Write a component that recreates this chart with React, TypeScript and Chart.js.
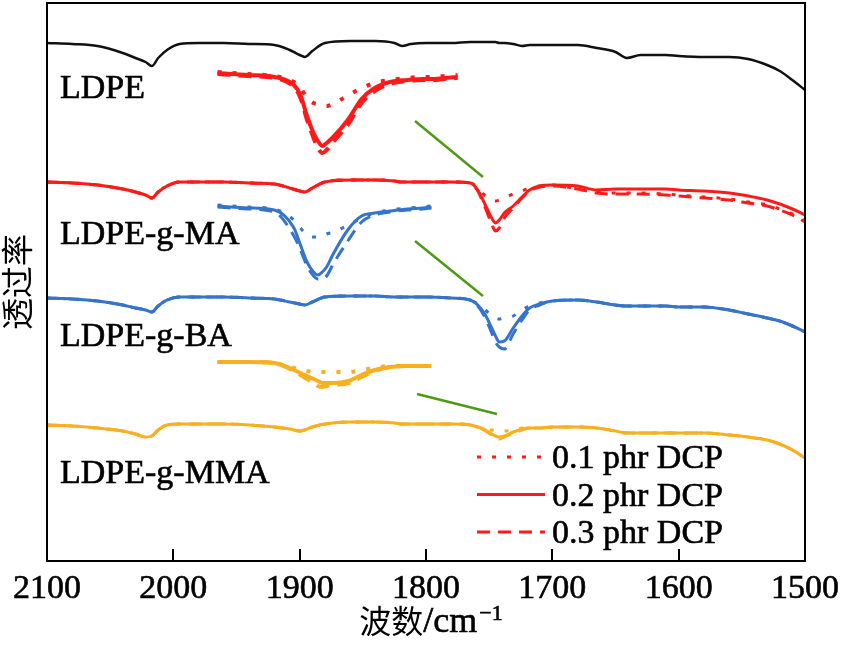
import React, { useEffect, useRef } from "react";
import { Chart, registerables } from "chart.js";

Chart.register(...registerables);

// ---------- data (transmittance in arbitrary units, curves offset) ----------
const WAVENUMBERS = [
  2100, 2080, 2060, 2040, 2030, 2022, 2017, 2012, 2005, 1995, 1980, 1960, 1940,
  1920, 1908, 1900, 1896, 1890, 1880, 1860, 1840, 1825, 1819, 1812, 1800, 1780,
  1765, 1759, 1753, 1748, 1745, 1742, 1738, 1731, 1724, 1718, 1710, 1700, 1680,
  1665, 1650, 1641, 1630, 1610, 1600, 1580, 1560, 1545, 1530, 1520, 1510, 1500,
];

const LDPE = [
  518, 517, 515, 508, 503, 499, 495, 503, 511, 517, 518, 518, 517, 516, 511,
  506, 504, 510, 518, 520, 520, 518, 515, 517, 518, 518, 519, 519, 519, 519,
  519, 518, 518, 517, 515, 516, 516, 516, 516, 513, 509, 503, 506, 506, 505,
  504, 504, 502, 496, 490, 481, 471,
];

const MA_01 = [
  379, 378, 376, 372, 369, 366, 363, 369, 375, 379, 379, 379, 378, 377, 373,
  370, 369, 373, 379, 381, 381, 380, 379, 379, 379, 379, 378, 373, 365, 361,
  360, 361, 363, 367, 370, 373, 375, 376, 372, 369, 368, 368, 368, 367, 366,
  364, 362, 359, 356, 352, 347, 341,
];
const MA_02 = [
  379, 378, 376, 372, 369, 366, 363, 369, 375, 379, 379, 379, 378, 377, 373,
  370, 369, 373, 379, 381, 381, 380, 379, 379, 379, 379, 378, 371, 356, 343,
  338, 341, 348, 355, 364, 371, 375, 376, 375, 371, 372, 372, 372, 372, 371,
  370, 368, 365, 361, 357, 352, 346,
];
const MA_03 = [
  379, 378, 376, 372, 369, 366, 363, 369, 375, 379, 379, 379, 378, 377, 373,
  370, 369, 373, 379, 381, 381, 380, 379, 379, 379, 379, 378, 370, 353, 337,
  330, 333, 343, 353, 363, 370, 374, 375, 372, 368, 367, 367, 367, 366, 365,
  363, 361, 358, 355, 351, 346, 339,
];

const BA_01 = [
  263, 262, 260, 256, 253, 251, 249, 255, 261, 264, 264, 264, 263, 262, 259,
  257, 256, 259, 264, 265, 265, 264, 264, 264, 264, 263, 261, 257, 251, 245,
  243, 242, 243, 245, 251, 255, 258, 260, 261, 259, 256, 255, 255, 255, 254,
  254, 251, 247, 243, 240, 235, 229,
];
const BA_02 = [
  263, 262, 260, 256, 253, 251, 249, 255, 261, 264, 264, 264, 263, 262, 259,
  257, 256, 259, 264, 265, 265, 264, 264, 264, 264, 263, 261, 256, 246, 233,
  225, 219, 220, 233, 245, 253, 257, 260, 261, 259, 256, 255, 255, 255, 254,
  254, 251, 247, 243, 240, 235, 229,
];
const BA_03 = [
  263, 262, 260, 256, 253, 251, 249, 255, 261, 264, 264, 264, 263, 262, 259,
  257, 256, 259, 264, 265, 265, 264, 264, 264, 264, 263, 261, 255, 243, 228,
  219, 214, 212, 227, 241, 251, 256, 260, 261, 259, 256, 255, 255, 255, 254,
  254, 251, 247, 243, 240, 235, 229,
];

const MMA_01 = [
  136, 135, 133, 130, 127, 124, 125, 131, 136, 137, 137, 137, 136, 134, 132,
  130, 131, 134, 137, 139, 139, 138, 137, 137, 137, 137, 136, 134, 132, 131,
  130, 130, 130, 131, 133, 133, 133, 134, 134, 133, 130, 128, 128, 128, 128,
  128, 126, 124, 121, 117, 111, 103,
];
const MMA_02 = [
  136, 135, 133, 130, 127, 124, 125, 131, 136, 137, 137, 137, 136, 134, 132,
  130, 131, 134, 137, 139, 139, 138, 137, 137, 137, 137, 136, 134, 131, 127,
  125, 124, 125, 129, 132, 133, 133, 134, 134, 133, 130, 128, 128, 128, 128,
  128, 126, 124, 121, 117, 111, 103,
];
const MMA_03 = [
  136, 135, 133, 130, 127, 124, 125, 131, 136, 137, 137, 137, 136, 134, 132,
  130, 131, 134, 137, 139, 139, 138, 137, 137, 137, 137, 136, 134, 130, 126,
  123, 122, 124, 128, 131, 133, 133, 134, 134, 133, 130, 128, 128, 128, 128,
  128, 126, 124, 121, 117, 111, 103,
];

// magnified C=O region (insets)
const INSET_WAVENUMBERS = [
  1790, 1776, 1764, 1755, 1752, 1749, 1746, 1744, 1742, 1740, 1737, 1730, 1724,
  1718, 1711, 1703, 1696, 1692, 1686, 1680,
];
const MA_INSET_01 = [489, 487, 485, 479, 473, 463, 458, 457, 456, 455, 457, 466, 473, 478, 481, 483, 484, 484, 485, 486];
const MA_INSET_02 = [488, 486, 484, 476, 466, 445, 428, 420, 415, 418, 424, 442, 462, 473, 479, 481, 482, 482, 483, 484];
const MA_INSET_03 = [487, 485, 483, 474, 463, 441, 423, 413, 408, 411, 419, 437, 458, 470, 477, 480, 481, 481, 482, 483];
const BA_INSET_01 = [356, 354, 352, 341, 333, 326, 324, 324, 325, 327, 329, 336, 343, 348, 351, 353, 354, 355, null, null];
const BA_INSET_02 = [355, 353, 351, 333, 316, 299, 289, 286, 289, 294, 307, 332, 345, 348, 350, 352, 353, 354, null, null];
const BA_INSET_03 = [354, 352, 349, 325, 311, 295, 285, 282, 282, 285, 297, 321, 339, 346, 349, 351, 352, 353, null, null];
const MMA_INSET_01 = [199, 199, 198, 193, 191, 190, 189, 189, 189, 189, 189, 189, 191, 193, 195, 195, 195, 195, null, null];
const MMA_INSET_02 = [199, 199, 198, 191, 188, 185, 182, 180, 178, 178, 178, 180, 186, 191, 194, 195, 195, 195, null, null];
const MMA_INSET_03 = [199, 199, 198, 190, 186, 182, 178, 175, 174, 175, 176, 178, 184, 190, 194, 195, 195, 195, null, null];

// green pointer lines (inset -> main peak)
const CONNECTOR_X = [1808.7, 1754.9];
const CONNECTOR_MA = [440, 384];
const CONNECTOR_BA = [320, 265];
const CONNECTOR_MMA_X = [1807.1, 1743.8];
const CONNECTOR_MMA = [167, 147];

const X_TICKS = [2100, 2000, 1900, 1800, 1700, 1600, 1500];
const SAMPLE_LABELS = ["LDPE", "LDPE-g-MA", "LDPE-g-BA", "LDPE-g-MMA"];
const SAMPLE_LABEL_Y = [463, 317, 215, 78];
const DCP_LABELS = ["0.1 phr DCP", "0.2 phr DCP", "0.3 phr DCP"];

// ---------- styling ----------
const RED = "#ff1a1a";
const BLUE = "#3574cc";
const YELLOW = "#f8b020";
const GREEN = "#4f9a14";
const DOT = [4, 11];
const DASH = [13, 8];
const DASHES = [DOT, [], DASH];

const INSET_REAL = [1790, 1680];
const INSET_SPOT = [1965, 1775];
const slope = (INSET_REAL[1] - INSET_REAL[0]) / (INSET_SPOT[1] - INSET_SPOT[0]);
const insetAt = (w: number) => INSET_REAL[0] + (w - INSET_SPOT[0]) * slope;

const SERIF = "'Liberation Serif', 'Times New Roman', serif";
const CJK = "'Noto Sans CJK SC', sans-serif";

function series(
  label: string,
  xs: number[],
  ys: (number | null)[],
  color: string,
  dash: number[],
  xAxisID = "x",
  width = 3
) {
  return {
    label,
    data: xs.map((x, i) => ({ x, y: ys[i] })),
    borderColor: color,
    backgroundColor: color,
    borderWidth: width,
    borderDash: dash,
    pointRadius: 0,
    cubicInterpolationMode: "monotone" as const,
    xAxisID,
    yAxisID: "y",
    spanGaps: false,
    fill: false,
  };
}

function heavyText(ctx: CanvasRenderingContext2D, t: string, x: number, y: number) {
  ctx.fillText(t, x, y);
  ctx.strokeText(t, x, y);
}

const decor = {
  id: "decor",
  afterDatasetsDraw(chart: any) {
    const { ctx, chartArea: a, scales } = chart;
    const x = scales.x;
    const y = scales.y;
    ctx.save();
    // frame
    ctx.strokeStyle = "#000";
    ctx.lineWidth = 2;
    ctx.setLineDash([]);
    ctx.strokeRect(a.left, a.top, a.right - a.left, a.bottom - a.top);
    // inward ticks
    ctx.beginPath();
    X_TICKS.forEach((v) => {
      const px = Math.round(x.getPixelForValue(v));
      ctx.moveTo(px, a.bottom);
      ctx.lineTo(px, a.bottom - 12);
    });
    ctx.stroke();

    ctx.fillStyle = "#000";
    ctx.strokeStyle = "#000";
    ctx.lineWidth = 0.6;
    // tick labels
    ctx.font = `34px ${SERIF}`;
    ctx.textAlign = "center";
    ctx.textBaseline = "alphabetic";
    X_TICKS.forEach((v) => heavyText(ctx, String(v), x.getPixelForValue(v), a.bottom + 37));

    // x title: 波数/cm^-1
    const base = a.bottom + 71;
    ctx.textAlign = "left";
    ctx.font = `32px ${CJK}`;
    const w1 = ctx.measureText("波数").width;
    ctx.font = `36px ${SERIF}`;
    const w2 = ctx.measureText("/cm").width;
    ctx.font = `22px ${SERIF}`;
    const w3 = ctx.measureText("−1").width;
    let sx = (a.left + a.right) / 2 + 5 - (w1 + w2 + w3 + 2) / 2;
    ctx.font = `32px ${CJK}`;
    ctx.fillText("波数", sx, base + 1);
    sx += w1;
    ctx.font = `36px ${SERIF}`;
    heavyText(ctx, "/cm", sx, base);
    sx += w2 + 2;
    ctx.font = `22px ${SERIF}`;
    heavyText(ctx, "−1", sx, base - 12);

    // y title
    ctx.save();
    ctx.translate(17, (a.top + a.bottom) / 2);
    ctx.rotate(-Math.PI / 2);
    ctx.font = `32px ${CJK}`;
    ctx.textAlign = "center";
    ctx.textBaseline = "middle";
    ctx.fillText("透过率", 0, 0);
    ctx.restore();

    // sample labels
    ctx.font = `34px ${SERIF}`;
    ctx.textAlign = "left";
    ctx.textBaseline = "alphabetic";
    SAMPLE_LABELS.forEach((t, i) => {
      heavyText(ctx, t, a.left + 13, y.getPixelForValue(SAMPLE_LABEL_Y[i]));
    });

    // legend
    DCP_LABELS.forEach((t, i) => {
      const ly = a.top + 454 + i * 37.5;
      ctx.strokeStyle = RED;
      ctx.lineWidth = 3;
      ctx.setLineDash(DASHES[i]);
      ctx.beginPath();
      ctx.moveTo(a.left + 430, ly);
      ctx.lineTo(a.left + 498, ly);
      ctx.stroke();
      ctx.setLineDash([]);
      ctx.strokeStyle = "#000";
      ctx.lineWidth = 0.6;
      ctx.fillStyle = "#000";
      heavyText(ctx, t, a.left + 505, ly + 11);
    });
    ctx.restore();
  },
};

export default function App() {
  const ref = useRef<HTMLCanvasElement | null>(null);
  useEffect(() => {
    if (!ref.current) return;
    const datasets: any[] = [
      series("LDPE", WAVENUMBERS, LDPE, "#111111", [], "x", 2.5),
      series("LDPE-g-MA 0.1 phr DCP", WAVENUMBERS, MA_01, RED, DOT),
      series("LDPE-g-MA 0.3 phr DCP", WAVENUMBERS, MA_03, RED, DASH),
      series("LDPE-g-MA 0.2 phr DCP", WAVENUMBERS, MA_02, RED, []),
      series("LDPE-g-BA 0.1 phr DCP", WAVENUMBERS, BA_01, BLUE, DOT),
      series("LDPE-g-BA 0.3 phr DCP", WAVENUMBERS, BA_03, BLUE, DASH),
      series("LDPE-g-BA 0.2 phr DCP", WAVENUMBERS, BA_02, BLUE, []),
      series("LDPE-g-MMA 0.1 phr DCP", WAVENUMBERS, MMA_01, YELLOW, DOT),
      series("LDPE-g-MMA 0.3 phr DCP", WAVENUMBERS, MMA_03, YELLOW, DASH),
      series("LDPE-g-MMA 0.2 phr DCP", WAVENUMBERS, MMA_02, YELLOW, []),
      series("MA inset 0.1", INSET_WAVENUMBERS, MA_INSET_01, RED, DOT, "xInset", 4),
      series("MA inset 0.3", INSET_WAVENUMBERS, MA_INSET_03, RED, DASH, "xInset", 4),
      series("MA inset 0.2", INSET_WAVENUMBERS, MA_INSET_02, RED, [], "xInset", 4),
      series("BA inset 0.1", INSET_WAVENUMBERS, BA_INSET_01, BLUE, DOT, "xInset"),
      series("BA inset 0.3", INSET_WAVENUMBERS, BA_INSET_03, BLUE, DASH, "xInset"),
      series("BA inset 0.2", INSET_WAVENUMBERS, BA_INSET_02, BLUE, [], "xInset"),
      series("MMA inset 0.1", INSET_WAVENUMBERS, MMA_INSET_01, YELLOW, DOT, "xInset", 4),
      series("MMA inset 0.3", INSET_WAVENUMBERS, MMA_INSET_03, YELLOW, DASH, "xInset", 4),
      series("MMA inset 0.2", INSET_WAVENUMBERS, MMA_INSET_02, YELLOW, [], "xInset", 4),
      series("pointer MA", CONNECTOR_X, CONNECTOR_MA, GREEN, [], "x", 2.5),
      series("pointer BA", CONNECTOR_X, CONNECTOR_BA, GREEN, [], "x", 2.5),
      series("pointer MMA", CONNECTOR_MMA_X, CONNECTOR_MMA, GREEN, [], "x", 2.5),
    ];
    const chart = new Chart(ref.current, {
      type: "line",
      data: { datasets },
      options: {
        responsive: false,
        animation: false,
        devicePixelRatio: 1,
        events: [],
        layout: { padding: { left: 47, right: 36, top: 3, bottom: 85 } },
        plugins: { legend: { display: false }, tooltip: { enabled: false } },
        scales: {
          x: { type: "linear", min: 1500, max: 2100, reverse: true, display: false },
          xInset: {
            type: "linear",
            min: insetAt(1500),
            max: insetAt(2100),
            reverse: true,
            display: false,
          },
          y: { type: "linear", min: 0, max: 558, display: false },
        },
      },
      plugins: [decor],
    });
    return () => chart.destroy();
  }, []);
  return (
    <div style={{ position: "absolute", left: 0, top: 0, width: 841, height: 646, background: "#fff" }}>
      <canvas ref={ref} width={841} height={646} />
    </div>
  );
}
